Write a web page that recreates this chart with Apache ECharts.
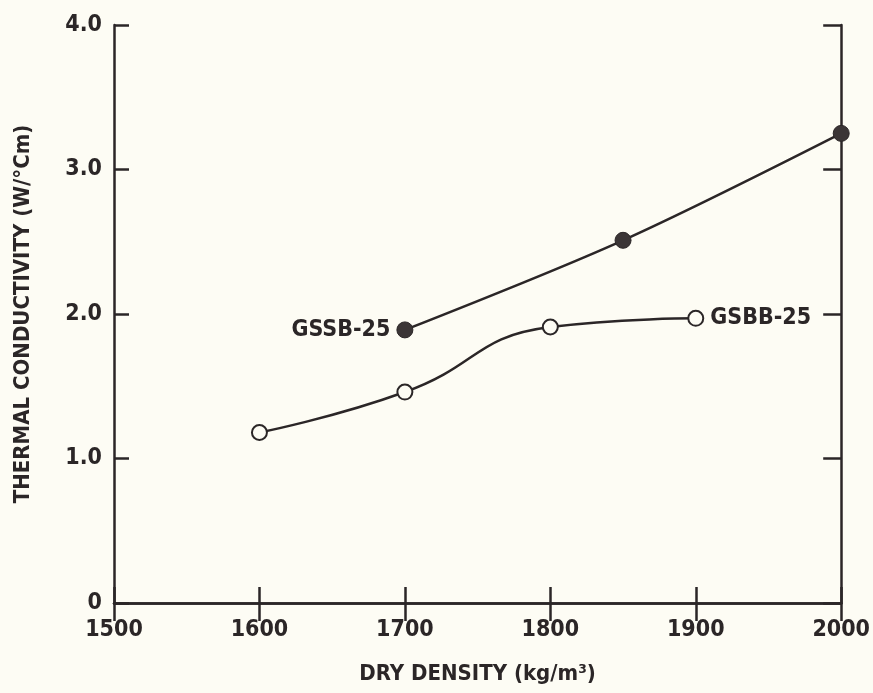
<!DOCTYPE html>
<html>
<head>
<meta charset="utf-8">
<script src="https://cdn.jsdelivr.net/npm/echarts@6/dist/echarts.min.js"></script>
<style>
html,body{margin:0;padding:0;background:#fdfcf4;}
#c{width:873px;height:693px;}
</style>
</head>
<body>
<div id="c"></div>
<script>
const densityGSSB = [1700, 1850, 2000];
const conductivityGSSB = [1.89, 2.51, 3.25];
const densityGSBB = [1600, 1700, 1800, 1900];
const conductivityGSBB = [1.18, 1.46, 1.91, 1.97];
const xTicks = [1500, 1600, 1700, 1800, 1900, 2000];
const yTicks = [0, 1.0, 2.0, 3.0, 4.0];

const ink = '#2b2627';
const font = '"Liberation Sans Narrow", "DejaVu Sans Condensed", sans-serif';

function pairs(xs, ys){ return xs.map((x,i)=>[x, ys[i]]); }

const gssb = pairs(densityGSSB, conductivityGSSB).map((p,i)=>{
  const d = {value: p};
  if (i === 0) d.label = {show:true, position:'left', distance:6, formatter:'GSSB-25'};
  return d;
});
const gsbb = pairs(densityGSBB, conductivityGSBB).map((p,i,a)=>{
  const d = {value: p};
  if (i === a.length-1) d.label = {show:true, position:'right', distance:6, formatter:'GSBB-25'};
  return d;
});

const labelStyle = {color: ink, fontFamily: font, fontSize: 23, fontWeight: 'bold'};

const chart = echarts.init(document.getElementById('c'), null, {renderer:'canvas'});
chart.setOption({
  backgroundColor: '#fdfcf4',
  animation: false,
  grid: {left:114, right:27, top:25, bottom:90},
  xAxis: [{
    type:'value', min:1500, max:2000, interval:100, position:'bottom',
    axisLine:{show:true, lineStyle:{color:ink, width:2.5}},
    axisTick:{show:true, inside:true, length:16, lineStyle:{color:ink, width:2.5}},
    axisLabel:{...labelStyle, margin:16, formatter: v => xTicks.includes(v) ? String(v) : ''},
    splitLine:{show:false},
    name:'DRY DENSITY (kg/m³)', nameLocation:'middle', nameGap:60,
    nameTextStyle:{...labelStyle, fontSize:22}
  },{
    type:'value', min:1500, max:2000, interval:100, position:'top',
    axisLine:{show:true, lineStyle:{color:ink, width:2.5}},
    axisTick:{show:true, inside:true, length:18, lineStyle:{color:ink, width:2.5}},
    axisLabel:{show:false}, splitLine:{show:false}
  }],
  yAxis: [{
    type:'value', min:0, max:4, interval:1, position:'left',
    axisLine:{show:true, lineStyle:{color:ink, width:2.5}},
    axisTick:{show:true, inside:true, length:15, lineStyle:{color:ink, width:2.5}},
    axisLabel:{...labelStyle, margin:12, formatter: v => yTicks.includes(v) ? (v === 0 ? '0' : v.toFixed(1)) : ''},
    splitLine:{show:false},
    name:'THERMAL CONDUCTIVITY (W/°Cm)', nameLocation:'middle', nameGap:80, nameRotate:90,
    nameTextStyle:{...labelStyle, fontSize:22}
  },{
    type:'value', min:0, max:4, interval:1, position:'right',
    axisLine:{show:true, lineStyle:{color:ink, width:2.5}},
    axisTick:{show:true, inside:true, length:18, lineStyle:{color:ink, width:2.5}},
    axisLabel:{show:false}, splitLine:{show:false}
  }],
  series: [{
    name:'GSSB-25', type:'line', smooth:0.3, data:gssb,
    symbol:'circle', symbolSize:16,
    itemStyle:{color:'#3b3536', borderColor:ink, borderWidth:1},
    lineStyle:{color:ink, width:2.5},
    label:{show:false, ...labelStyle}
  },{
    name:'GSBB-25', type:'line', smooth:0.5, data:gsbb,
    symbol:'circle', symbolSize:15,
    itemStyle:{color:'#fdfcf4', borderColor:ink, borderWidth:2},
    lineStyle:{color:ink, width:2.5},
    label:{show:false, ...labelStyle}
  }]
});
</script>
</body>
</html>
